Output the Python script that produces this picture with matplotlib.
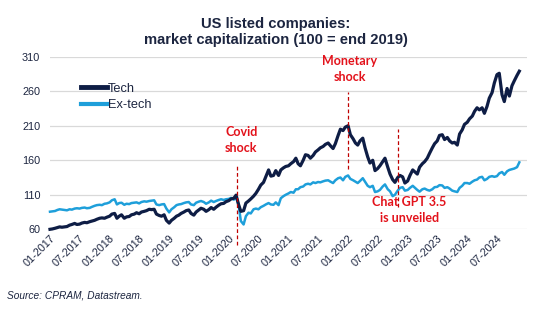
import pandas as pd
import matplotlib
matplotlib.use("Agg")
import matplotlib.pyplot as plt
import matplotlib.dates as mdates

# semi-monthly readings (1st and 15th of each month), Jan 2017 .. Nov 2024
tech_2017 = [60, 60.5, 61.5, 62.5, 63.5, 63, 63.5, 64, 66, 67, 68.5, 67,
             67.5, 69, 70, 69.5, 71, 72, 73, 74.5, 76, 76.5, 76, 77.5]
tech_2018 = [79, 82, 83, 76, 79, 81, 76, 78, 78.5, 81, 82, 84,
             82.5, 85, 86, 87, 89, 88.5, 89, 82, 80, 79, 81, 73]
tech_2019 = [69, 73, 76, 79, 80.5, 83, 85, 87, 88, 83, 80.5, 85,
             88, 90.5, 89, 86, 88.5, 91.5, 89, 92, 95, 97, 97.5, 100]
tech_2020 = [101.5, 104, 105, 109.5, 96, 86, 87, 98, 101, 104, 108, 112,
             118, 124, 128, 136, 146, 137, 138, 145, 138, 146, 149, 151]
tech_2021 = [152, 155, 158, 163, 155, 152, 160, 168, 167, 163, 167, 172,
             175, 178, 180, 183, 185, 181, 177, 184, 196, 205, 203, 208]
tech_2022 = [210, 197, 191, 185, 182, 188, 192, 178, 165, 156, 160, 145,
             148, 152, 158, 163, 150, 140, 132, 128, 135, 138, 136, 127]
tech_2023 = [130, 138, 146, 143, 140, 150, 155, 158, 163, 170, 178, 184,
             188, 196, 197, 190, 193, 188, 185, 186, 182, 198, 204, 212]
tech_2024 = [215, 220, 224, 231, 236, 233, 236, 228, 238, 250, 258, 272,
             284, 286, 255, 245, 264, 253, 268, 275, 283, 289]

extech_2017 = [85.5, 86, 86.5, 88, 89, 88.5, 88, 87.5, 89, 88.5, 90, 90.5,
               90, 91, 91.5, 90.5, 91, 92.5, 94, 95, 95.5, 95, 97, 97.5]
extech_2018 = [99, 102, 103.5, 96, 98, 98.5, 95.5, 97, 96.5, 98, 98.5, 99,
               97.5, 99.5, 100.5, 100, 101, 101.5, 102, 96, 95, 96, 96.5, 90]
extech_2019 = [84.5, 89, 92, 95, 96, 96.5, 98, 99, 99.5, 96, 95, 98.5,
               100, 101, 99.5, 97, 99, 101.5, 99.5, 101, 102.5, 103.5, 102.5, 103.5]
extech_2020 = [104, 105.5, 103, 106, 96, 72, 67, 79, 84, 83, 89, 90,
               89, 92, 94, 96, 98, 96, 95.5, 99, 95, 105, 108, 110]
extech_2021 = [112, 114, 113, 118, 118, 121, 122, 125, 126, 125, 128, 127,
               128.5, 128, 129.5, 130.5, 131, 129, 127, 131, 134, 135, 131, 136]
extech_2022 = [138, 133, 131, 129, 127, 130, 134, 129, 123, 121, 123, 114,
               115, 117, 122, 125, 118, 115, 108, 110, 116, 120, 121, 116]
extech_2023 = [117, 120, 123, 120, 117, 114.5, 118, 119, 117, 116, 118, 121,
               121.5, 124, 123.5, 120, 121, 119, 116, 115, 114, 120, 123, 127]
extech_2024 = [127, 126, 129, 131, 132, 135, 136, 131, 133, 136, 137, 136,
               137, 141, 143, 139, 144, 146, 147, 148, 150, 157]

tech = (tech_2017 + tech_2018 + tech_2019 + tech_2020 + tech_2021
        + tech_2022 + tech_2023 + tech_2024)
extech = (extech_2017 + extech_2018 + extech_2019 + extech_2020 + extech_2021
          + extech_2022 + extech_2023 + extech_2024)
dates = pd.date_range("2017-01-01", periods=len(tech), freq="SMS")

tick_dates = pd.date_range("2017-01-01", "2024-07-01", freq="6MS")
y_ticks = [60, 110, 160, 210, 260, 310]

events = [("2020-02-20", 37, 155, "Covid\nshock", "2020-03-18", 190),
          ("2022-01-01", 147, 259, "Monetary\nshock", "2022-01-12", 292.5),
          ("2022-10-31", 92, 205, "Chat GPT 3.5\nis unveiled", "2023-01-12", 88)]

NAVY = "#0E1D45"
BLUE = "#1E9FDA"
RED = "#E3121B"
TXT = "#1C2540"

plt.rcParams["font.family"] = ["Liberation Sans", "DejaVu Sans"]

fig = plt.figure(figsize=(5.34, 3.25), dpi=100)
ax = fig.add_axes([50 / 534, 1 - 229.3 / 325, 477 / 534, 172.6 / 325])

ax.plot(dates, extech, color=BLUE, lw=1.8, label="Ex-tech", zorder=3, clip_on=False)
ax.plot(dates, tech, color=NAVY, lw=2.3, label="Tech", zorder=4, clip_on=False)

for d, y0, y1, txt, tx, ty in events:
    ax.plot([pd.Timestamp(d)] * 2, [y0, y1], color="#C00000", lw=0.9,
            ls=(0, (3, 2)), zorder=5, clip_on=False)
    ax.text(pd.Timestamp(tx), ty, txt, color=RED, fontsize=9, fontweight="bold",
            family=["Lato", "DejaVu Sans"], ha="center", va="center",
            linespacing=1.4, zorder=6)

ax.set_xlim(pd.Timestamp("2017-01-01"), pd.Timestamp("2025-01-01"))
ax.set_ylim(60, 310)
ax.set_yticks(y_ticks)
ax.set_xticks(tick_dates)
ax.xaxis.set_major_formatter(mdates.DateFormatter("%m-%Y"))
ax.grid(axis="y", color="#D9D9D9", lw=0.9)
ax.set_axisbelow(True)
for s in ax.spines.values():
    s.set_visible(False)
ax.tick_params(length=0, labelsize=7.8, labelcolor=TXT)
ax.tick_params(axis="y", pad=7)
ax.tick_params(axis="x", pad=3)
for lab in ax.get_xticklabels():
    lab.set_rotation(45)
    lab.set_ha("right")
    lab.set_va("top")
    lab.set_rotation_mode("anchor")

handles, labels = ax.get_legend_handles_labels()
leg = ax.legend(handles[::-1], labels[::-1], loc="upper left",
                bbox_to_anchor=(0.055, 0.88), frameon=False, fontsize=9.2,
                handlelength=2.0, handletextpad=0.1, labelspacing=0.35,
                borderaxespad=0)
leg.get_lines()[0].set_linewidth(3.5)
leg.get_lines()[1].set_linewidth(3.0)
for t in leg.get_texts():
    t.set_color(TXT)

fig.text(0.517, 1 - 32 / 325, "US listed companies:\nmarket capitalization (100 = end 2019)",
         ha="center", va="center", fontsize=10.6, fontweight="bold", color=TXT,
         linespacing=1.25)
fig.text(7 / 534, 1 - 295 / 325, "Source: CPRAM, Datastream.", fontsize=7.3,
         style="italic", color=TXT, va="center")

fig.savefig("out.png", dpi=100)
